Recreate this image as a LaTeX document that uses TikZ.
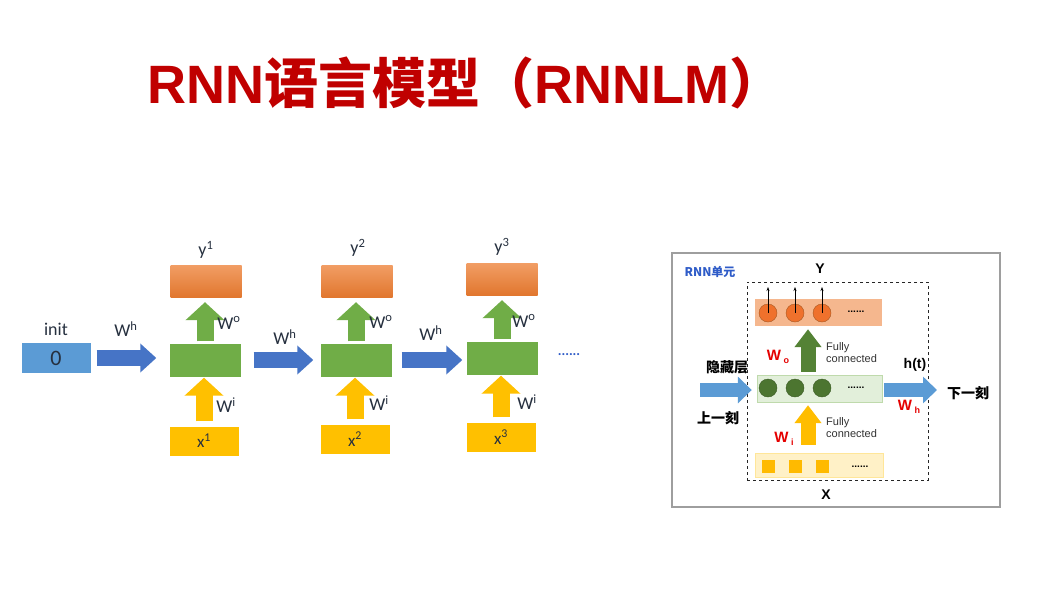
\documentclass[tikz,border=0pt]{standalone}
\usepackage{fontspec}
\setmainfont{Carlito}
\newfontfamily\arialb{Liberation Sans}
\newfontfamily\cjk{Noto Sans CJK SC}
\usetikzlibrary{arrows.meta,positioning}
\definecolor{mred}{HTML}{C00000}
\definecolor{tcol}{HTML}{26303F}
\definecolor{lblue}{HTML}{5B9BD5}
\definecolor{mblue}{HTML}{4674C6}
\definecolor{mgreen}{HTML}{70AD47}
\definecolor{dgreen}{HTML}{548235}
\definecolor{morange}{HTML}{ED7D31}
\definecolor{myellow}{HTML}{FFC000}
\definecolor{ublue}{HTML}{2F5CC8}
\tikzstyle{cell}=[rectangle, minimum width=71pt, minimum height=32pt, inner sep=0pt]
\tikzstyle{hid}=[cell, fill=mgreen]
\tikzstyle{outbox}=[cell, top color=morange!75!white, bottom color=morange!95!black]
\tikzstyle{inp}=[cell, fill=myellow]
\tikzstyle{lbl}=[text=tcol, inner sep=0pt, font=\fontsize{18}{20}\selectfont]
\tikzstyle{harr}=[line width=16pt, -{Triangle[length=16pt,width=28pt]}, color=mblue]
\tikzstyle{varr}=[line width=17pt, -{Triangle[length=18pt,width=38pt]}]
\tikzstyle{band}=[rectangle, inner sep=0pt, minimum width=127pt, minimum height=27pt]
\tikzstyle{unit}=[circle, inner sep=0pt, minimum size=18pt]
\tikzstyle{sq}=[rectangle, inner sep=0pt, minimum size=13pt, fill=myellow!90!orange]
\tikzstyle{rarr}=[line width=14pt, -{Triangle[length=14pt,width=26pt]}, color=lblue]
\tikzstyle{uarr}=[line width=15pt, -{Triangle[length=18pt,width=26pt]}]
\tikzstyle{btxt}=[inner sep=0pt, font=\arialb\bfseries\fontsize{14}{16}\selectfont]
\tikzstyle{ctxt}=[inner sep=0pt, font=\cjk\bfseries\fontsize{14}{16}\selectfont]
\tikzstyle{wtxt}=[inner sep=0pt, text=red!90!black, font=\arialb\bfseries\fontsize{15}{16}\selectfont]
\tikzstyle{ftxt}=[inner sep=0pt, anchor=west, text=black!80, font=\arialb\fontsize{11}{12}\selectfont]
\tikzstyle{dotstxt}=[inner sep=0pt, font=\arialb\bfseries\fontsize{10}{10}\selectfont]
\newcommand{\sub}[1]{\,\raisebox{-3pt}{\fontsize{9}{10}\selectfont #1}}

\begin{document}
\begin{tikzpicture}[x=1pt, y=-1pt]
    \useasboundingbox[fill=white] (0,0) rectangle (1053,603);

    % title
    \node (title) [anchor=base west, inner sep=0pt, text=mred,
        font=\cjk\bfseries\fontsize{54}{60}\selectfont] at (147,103)
        {{\arialb\bfseries RNN}语言模型（{\arialb\bfseries RNNLM}）};

    % unrolled network
    \node (init) [cell, fill=lblue, minimum width=69pt, minimum height=30pt] at (56,358)
        {\fontsize{22}{24}\selectfont\color{tcol}0};
    \node (inittxt) [lbl] at (56,329) {init};

    \node (y1) [outbox] at (206,281) {};
    \node (h1) [hid, minimum height=33pt] at (205,360) {};
    \node (x1) [inp, minimum width=69pt, minimum height=29pt] at (204,441) {\fontsize{17}{18}\selectfont\color{tcol}x\textsuperscript{1}};
    \node (y1txt) [lbl] at (206,250) {y\textsuperscript{1}};

    \node (y2) [outbox] at (357,281) {};
    \node (h2) [hid, minimum height=33pt] at (356,360) {};
    \node (x2) [inp, minimum width=69pt, minimum height=29pt] at (355,439) {\fontsize{17}{18}\selectfont\color{tcol}x\textsuperscript{2}};
    \node (y2txt) [lbl] at (358,248) {y\textsuperscript{2}};

    \node (y3) [outbox] at (502,279) {};
    \node (h3) [hid, minimum height=33pt] at (502,358) {};
    \node (x3) [inp, minimum width=69pt, minimum height=29pt] at (501,437) {\fontsize{17}{18}\selectfont\color{tcol}x\textsuperscript{3}};
    \node (y3txt) [lbl] at (502,247) {y\textsuperscript{3}};

    \draw[harr, shorten <=6pt, shorten >=13pt] (init.east) -- (init.east -| h1.west);
    \draw[harr, shorten <=13pt, shorten >=7pt] (h1.east) -- (h1.east -| h2.west);
    \draw[harr, shorten <=10pt, shorten >=4pt] (h2.east) -- (h2.east -| h3.west);
    \node (wh1) [lbl] at (126,329) {W\textsuperscript{h}};
    \node (wh2) [lbl] at (285,337) {W\textsuperscript{h}};
    \node (wh3) [lbl] at (431,333) {W\textsuperscript{h}};

    \draw[varr, mgreen, shorten <=2pt, shorten >=5pt] (h1) -- (h1 |- y1.south);
    \draw[varr, mgreen, shorten <=2pt, shorten >=5pt] (h2) -- (h2 |- y2.south);
    \draw[varr, mgreen, shorten <=2pt, shorten >=5pt] (h3) -- (h3 |- y3.south);
    \node (wo1) [lbl] at (229,323) {W\textsuperscript{o}};
    \node (wo2) [lbl] at (381,322) {W\textsuperscript{o}};
    \node (wo3) [lbl] at (524,321) {W\textsuperscript{o}};

    \draw[varr, myellow, shorten <=5pt, shorten >=1pt] (x1.north) -- (x1 |- h1.south);
    \draw[varr, myellow, shorten <=5pt, shorten >=1pt] (x2.north) -- (x2 |- h2.south);
    \draw[varr, myellow, shorten <=5pt, shorten >=1pt] (x3.north) -- (x3 |- h3.south);
    \node (wi1) [lbl] at (226,405) {W\textsuperscript{i}};
    \node (wi2) [lbl] at (379,403) {W\textsuperscript{i}};
    \node (wi3) [lbl] at (527,402) {W\textsuperscript{i}};

    \node (more) [inner sep=0pt, text=ublue, font=\bfseries\fontsize{14}{14}\selectfont] at (569,355) {......};

    % RNN cell
    \node (frame) [rectangle, draw=black!38, line width=1.8pt, minimum width=328pt, minimum height=254pt] at (836,380) {};
    \node (cellbox) [rectangle, draw=black!85, dashed, line width=0.6pt, minimum width=181pt, minimum height=198pt] at (837.5,381) {};
    \node (unittxt) [inner sep=0pt, text=ublue, font=\cjk\bfseries\fontsize{12}{14}\selectfont] at (710,272) {RNN单元};
    \node (ytxt) [btxt] at (820,269) {Y};
    \node (xtxt) [btxt] at (826,495) {X};

    \node (oband) [band, fill=morange!55!white] at (818.5,312.5) {};
    \node (hband) [band, fill=mgreen!20!white, draw=mgreen!45!white, minimum width=125pt] at (819.5,388.5) {};
    \node (xband) [band, fill=myellow!22!white, draw=myellow!40!white, minimum width=128pt, minimum height=24pt] at (819,465) {};

    \coordinate (outtop) at (800,287);
    \node (oc1) [unit, fill=morange!90!red, draw=morange!70!black] at (768,313) {};
    \node (oc2) [unit, fill=morange!90!red, draw=morange!70!black] at (795,313) {};
    \node (oc3) [unit, fill=morange!90!red, draw=morange!70!black] at (822,313) {};
    \draw[-{Stealth[length=4pt,width=3pt]}, line width=0.8pt] (oc1.center) -- (oc1 |- outtop);
    \draw[-{Stealth[length=4pt,width=3pt]}, line width=0.8pt] (oc2.center) -- (oc2 |- outtop);
    \draw[-{Stealth[length=4pt,width=3pt]}, line width=0.8pt] (oc3.center) -- (oc3 |- outtop);
    \node (odots) [dotstxt] at (856,312) {......};

    \node (hc1) [unit, fill=dgreen!90!black, draw=dgreen!70!black] at (768,388) {};
    \node (hc2) [unit, fill=dgreen!90!black, draw=dgreen!70!black] at (795,388) {};
    \node (hc3) [unit, fill=dgreen!90!black, draw=dgreen!70!black] at (822,388) {};
    \node (hdots) [dotstxt] at (856,388) {......};

    \node (xs1) [sq] at (768,466) {};
    \node (xs2) [sq] at (795,466) {};
    \node (xs3) [sq] at (822,466) {};
    \node (xdots) [dotstxt] at (860,467) {......};

    \coordinate (prev) at (700,390);
    \coordinate (next) at (937,390);
    \draw[rarr, shorten >=5pt] (prev) -- (prev -| hband.west);
    \draw[rarr, shorten <=2pt] (hband.east |- next) -- (next);

    \draw[uarr, dgreen, shorten <=3pt, shorten >=3pt] (hband.north -| hc2) ++(13,0) coordinate (hup) -- (hup |- oband.south);
    \draw[uarr, myellow!95!orange, shorten <=8pt, shorten >=3pt] (xband.north -| hc2) ++(13,0) coordinate (xup) -- (xup |- hband.south);

    \node (hidtxt) [ctxt] at (727,367) {隐藏层};
    \node (lasttxt) [ctxt] at (718,418) {上一刻};
    \node (nexttxt) [ctxt] at (968,393) {下一刻};
    \node (httxt) [btxt] at (915,365) {h(t)};

    \node (wo) [wtxt] at (778,357) {W\sub{o}};
    \node (wi) [wtxt] at (784,439) {W\sub{i}};
    \node (whr) [wtxt] at (909,407) {W\sub{h}};

    \node (fc1) [ftxt, align=left] at (826,353) {Fully\\connected};
    \node (fc2) [ftxt, align=left] at (826,428) {Fully\\connected};
\end{tikzpicture}
\end{document}
